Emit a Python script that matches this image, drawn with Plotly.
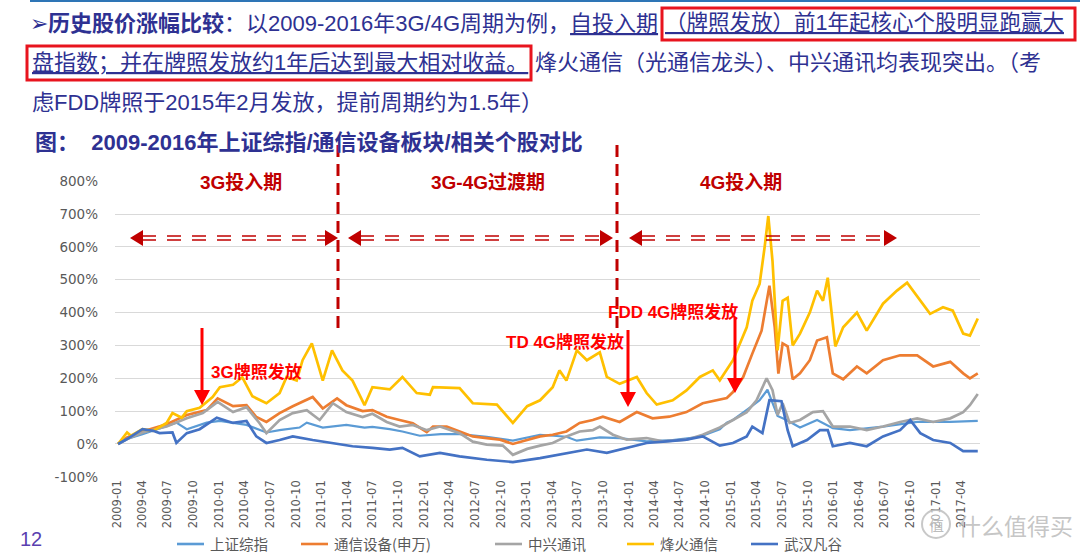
import plotly.graph_objects as go

# ------------------------------------------------------------------ data
series_names = ["上证综指", "通信设备(申万)", "中兴通讯", "烽火通信", "武汉凡谷"]
series_colors = ["#5B9BD5", "#ED7D31", "#A5A5A5", "#FFC000", "#4472C4"]

sz_dates = ["2009-01-05", "2009-02-06", "2009-04-02", "2009-06-27", "2009-08-01", "2009-09-07",
            "2009-11-17", "2010-01-03", "2010-04-08", "2010-06-18", "2010-08-04", "2010-10-14",
            "2010-11-09", "2011-01-05", "2011-03-30", "2011-06-03", "2011-07-01", "2011-09-01",
            "2011-10-16", "2011-12-17", "2012-03-01", "2012-05-07", "2012-08-12", "2012-11-13",
            "2013-02-18", "2013-05-23", "2013-06-29", "2013-09-19", "2013-11-29", "2014-03-05",
            "2014-06-06", "2014-09-11", "2014-11-21", "2014-12-16", "2015-01-07", "2015-03-07",
            "2015-04-12", "2015-05-10", "2015-06-15", "2015-07-17", "2015-09-03", "2015-11-03",
            "2015-12-29", "2016-02-28", "2016-06-25", "2016-10-25", "2017-02-20", "2017-05-29"]
sz_vals = [0, 15, 30, 55, 65, 45,
           65, 70, 58, 35, 42, 50,
           65, 50, 58, 50, 52, 45,
           38, 25, 30, 30, 22, 10,
           28, 22, 10, 20, 18, 8,
           12, 22, 45, 65, 73, 110,
           133, 165, 85, 73, 50, 73,
           48, 42, 53, 67, 67, 70]

tx_dates = ["2009-01-05", "2009-02-06", "2009-04-02", "2009-06-27", "2009-09-07", "2009-11-17",
            "2009-12-26", "2010-02-19", "2010-04-08", "2010-05-13", "2010-06-18", "2010-08-04",
            "2010-09-20", "2010-11-09", "2010-11-30", "2011-01-05", "2011-02-25", "2011-03-30",
            "2011-05-27", "2011-07-01", "2011-08-21", "2011-10-06", "2011-11-22", "2012-01-11",
            "2012-02-02", "2012-03-22", "2012-05-07", "2012-06-23", "2012-08-12", "2012-09-28",
            "2012-11-13", "2013-01-03", "2013-02-18", "2013-04-04", "2013-05-23", "2013-07-09",
            "2013-08-25", "2013-09-30", "2013-11-29", "2014-01-29", "2014-03-26", "2014-05-25",
            "2014-07-25", "2014-09-21", "2014-11-21", "2014-12-16", "2015-01-07", "2015-02-12",
            "2015-03-17", "2015-04-19", "2015-05-17", "2015-06-05", "2015-06-18", "2015-07-03",
            "2015-07-21", "2015-08-08", "2015-09-03", "2015-10-08", "2015-11-03", "2015-12-08",
            "2015-12-29", "2016-02-04", "2016-03-24", "2016-04-28", "2016-06-25", "2016-08-25",
            "2016-10-25", "2016-12-21", "2017-02-20", "2017-04-07", "2017-05-01", "2017-05-29"]
tx_vals = [0, 20, 38, 60, 88, 103,
           139, 115, 118, 82, 67, 94,
           115, 133, 143, 108, 139, 118,
           100, 103, 83, 73, 63, 36,
           53, 53, 38, 23, 18, 13,
           0, 13, 23, 28, 38, 64,
           73, 83, 67, 97, 78, 83,
           97, 124, 136, 140, 158, 203,
           275, 345, 482, 355, 214, 306,
           297, 197, 215, 255, 315, 325,
           215, 197, 236, 215, 255, 270,
           270, 236, 250, 215, 200, 215]

zx_dates = ["2009-01-05", "2009-02-06", "2009-04-02", "2009-06-27", "2009-09-07", "2009-11-03",
            "2009-12-26", "2010-02-19", "2010-04-08", "2010-05-24", "2010-06-18", "2010-08-04",
            "2010-09-20", "2010-11-09", "2010-12-25", "2011-02-10", "2011-03-30", "2011-05-27",
            "2011-07-01", "2011-08-21", "2011-10-06", "2011-11-22", "2012-01-11", "2012-02-27",
            "2012-05-07", "2012-06-23", "2012-08-12", "2012-10-08", "2012-11-13", "2013-01-03",
            "2013-02-18", "2013-04-04", "2013-05-23", "2013-07-09", "2013-08-25", "2013-09-19",
            "2013-11-05", "2013-12-24", "2014-03-05", "2014-05-01", "2014-07-25", "2014-09-21",
            "2014-11-21", "2015-01-07", "2015-02-25", "2015-04-01", "2015-05-07", "2015-05-28",
            "2015-06-15", "2015-07-03", "2015-07-28", "2015-09-03", "2015-10-19", "2015-11-24",
            "2015-12-29", "2016-02-28", "2016-04-28", "2016-06-25", "2016-08-25", "2016-10-25",
            "2016-12-21", "2017-02-20", "2017-04-07", "2017-05-01", "2017-05-29"]
zx_vals = [0, 15, 35, 53, 78, 94,
           128, 97, 112, 64, 33, 73,
           94, 103, 73, 124, 97, 82,
           92, 67, 53, 58, 42, 53,
           33, 7, -2, -5, -33, -15,
           -5, 3, 23, 38, 42, 53,
           28, 13, 18, 8, 13, 28,
           50, 73, 97, 133, 200, 164,
           88, 124, 64, 73, 97, 100,
           53, 53, 42, 53, 67, 78,
           67, 78, 97, 118, 152]

fh_dates = ["2009-01-05", "2009-02-06", "2009-02-20", "2009-04-02", "2009-05-10", "2009-06-27",
            "2009-07-18", "2009-08-20", "2009-09-07", "2009-10-23", "2009-12-08", "2010-01-03",
            "2010-02-19", "2010-03-24", "2010-04-29", "2010-06-18", "2010-08-04", "2010-08-29",
            "2010-10-04", "2010-10-25", "2010-11-27", "2011-01-05", "2011-02-07", "2011-03-16",
            "2011-04-21", "2011-06-03", "2011-07-01", "2011-09-01", "2011-10-16", "2011-12-06",
            "2012-01-22", "2012-02-02", "2012-05-07", "2012-06-23", "2012-09-17", "2012-11-13",
            "2013-01-03", "2013-02-18", "2013-04-04", "2013-04-28", "2013-05-23", "2013-06-29",
            "2013-08-04", "2013-09-19", "2013-10-14", "2013-11-29", "2014-01-29", "2014-03-05",
            "2014-04-10", "2014-06-06", "2014-07-25", "2014-09-11", "2014-10-27", "2014-11-21",
            "2015-01-07", "2015-02-25", "2015-03-17", "2015-04-12", "2015-04-30", "2015-05-13",
            "2015-05-28", "2015-06-15", "2015-07-03", "2015-07-21", "2015-08-08", "2015-09-03",
            "2015-10-08", "2015-11-03", "2015-11-24", "2015-12-11", "2016-01-07", "2016-02-04",
            "2016-03-24", "2016-04-28", "2016-06-25", "2016-08-14", "2016-09-19", "2016-11-05",
            "2016-12-10", "2017-01-25", "2017-03-01", "2017-04-07", "2017-05-01", "2017-05-29"]
fh_vals = [0, 35, 25, 45, 40, 64,
           94, 80, 100, 110, 143, 173,
           180, 203, 145, 124, 155, 204,
           193, 255, 306, 193, 285, 224,
           193, 118, 173, 166, 204, 155,
           150, 173, 170, 124, 120, 64,
           115, 133, 173, 224, 193, 285,
           255, 279, 204, 183, 204, 155,
           120, 133, 163, 204, 224, 194,
           255, 355, 436, 487, 600, 694,
           557, 285, 436, 445, 300, 336,
           400, 467, 436, 506, 297, 355,
           400, 345, 427, 467, 491, 436,
           396, 416, 406, 336, 330, 382]

wh_dates = ["2009-01-05", "2009-02-06", "2009-04-02", "2009-05-10", "2009-06-02", "2009-07-18",
            "2009-08-01", "2009-09-07", "2009-10-23", "2009-12-23", "2010-02-19", "2010-04-08",
            "2010-05-13", "2010-06-18", "2010-08-04", "2010-09-20", "2010-11-30", "2011-02-10",
            "2011-04-21", "2011-07-01", "2011-09-01", "2011-10-16", "2011-12-17", "2012-02-27",
            "2012-05-07", "2012-08-12", "2012-11-13", "2013-02-18", "2013-04-28", "2013-08-04",
            "2013-10-14", "2013-12-24", "2014-03-05", "2014-05-15", "2014-07-25", "2014-09-21",
            "2014-11-21", "2015-01-07", "2015-02-25", "2015-03-17", "2015-04-22", "2015-05-17",
            "2015-06-29", "2015-07-21", "2015-08-08", "2015-09-28", "2015-11-13", "2015-12-11",
            "2015-12-29", "2016-02-28", "2016-04-28", "2016-06-25", "2016-08-25", "2016-09-30",
            "2016-11-05", "2016-12-21", "2017-02-20", "2017-04-07", "2017-05-29"]
wh_vals = [0, 15, 45, 40, 33, 35,
           3, 33, 45, 80, 64, 70,
           23, 3, 12, 23, 12, 3,
           -7, -12, -17, -12, -38, -27,
           -38, -48, -55, -43, -33, -17,
           -27, -12, 3, 8, 13, 23,
           -5, 3, 23, 53, 33, 133,
           130, 42, -7, 12, 42, 42,
           -7, 3, -7, 23, 42, 73,
           33, 12, 3, -22, -22]

y_ticks = [-100, 0, 100, 200, 300, 400, 500, 600, 700, 800]
y_tick_text = ["-100%", "0%", "100%", "200%", "300%", "400%", "500%", "600%", "700%", "800%"]
period_labels = ["3G投入期", "3G-4G过渡期", "4G投入期"]
license_labels = ["3G牌照发放", "TD 4G牌照发放", "FDD 4G牌照发放"]

all_dates = [sz_dates, tx_dates, zx_dates, fh_dates, wh_dates]
all_vals = [sz_vals, tx_vals, zx_vals, fh_vals, wh_vals]

# ------------------------------------------------------------------ geometry helpers
W, H = 1080, 555
ML, MR, MT, MB = 115, 100, 181, 78
PW, PH = W - ML - MR, H - MT - MB


def X(p):
    return (p - ML) / PW


def Y(p):
    return (H - MB - p) / PH


fig = go.Figure()
for name, col, d, v in zip(series_names, series_colors, all_dates, all_vals):
    fig.add_trace(go.Scatter(x=d, y=v, mode="lines", name=name,
                             line=dict(color=col, width=2.7 if name != "上证综指" else 2.2),
                             showlegend=False))

shapes = []
annos = []
CJK = "Liberation Sans, Noto Sans CJK SC, sans-serif"
NAVY = "#2E3192"
DRED = "#C00000"
RED = "#FF0000"


def text(x, y, s, size, color, xanchor="left", family=CJK):
    annos.append(dict(x=X(x), y=Y(y), xref="paper", yref="paper", text=s, showarrow=False,
                      xanchor=xanchor, yanchor="middle", align="left",
                      font=dict(size=size, color=color, family=family)))


# top blue rule
shapes.append(dict(type="line", xref="paper", yref="paper", x0=X(30), x1=X(1080), y0=Y(1), y1=Y(1),
                   line=dict(color="#2E75B6", width=2)))

# header text
text(28, 23, "➢<b>历史股价涨幅比较</b>：以2009-2016年3G/4G周期为例，<u>自投入期</u>", 22, NAVY)
text(663, 23, "<u>（牌照发放）前1年起核心个股明显跑赢大</u>", 21.5, NAVY)
text(30, 63, "<u>盘指数；并在牌照发放约1年后达到最大相对收益。</u>", 22, NAVY)
text(533, 63, "烽火通信（光通信龙头）、中兴通讯均表现突出。（考", 22, NAVY)
text(30, 103, "虑FDD牌照于2015年2月发放，提前周期约为1.5年）", 22, NAVY)

shapes.append(dict(type="rect", xref="paper", yref="paper", x0=X(662), x1=X(1075), y0=Y(8), y1=Y(40),
                   line=dict(color="#E8141E", width=3)))
shapes.append(dict(type="rect", xref="paper", yref="paper", x0=X(27), x1=X(531), y0=Y(46), y1=Y(80),
                   line=dict(color="#E8141E", width=3)))

# chart subtitle
text(33, 142, "<b>图：  2009-2016年上证综指/通信设备板块/相关个股对比</b>", 22, NAVY)

# period labels
for lab, cx in zip(period_labels, [241, 488, 741]):
    text(cx, 182, "<b>" + lab + "</b>", 19, DRED, xanchor="center")

# vertical dashed separators
for vx in [338, 617]:
    shapes.append(dict(type="line", xref="paper", yref="paper", x0=X(vx), x1=X(vx), y0=Y(145), y1=Y(335),
                       line=dict(color=DRED, width=3, dash="12px,7px")))


def dbl_arrow(x0, x1, yc):
    for dy in (-2, 2):
        shapes.append(dict(type="line", xref="paper", yref="paper", x0=X(x0 + 12), x1=X(x1 - 12),
                           y0=Y(yc + dy), y1=Y(yc + dy),
                           line=dict(color=DRED, width=1.5, dash="14px,11px")))
    shapes.append(dict(type="path", xref="paper", yref="paper", line=dict(width=0), fillcolor=DRED,
                       path=f"M{X(x0)},{Y(yc)} L{X(x0 + 13)},{Y(yc - 8)} L{X(x0 + 13)},{Y(yc + 8)} Z"))
    shapes.append(dict(type="path", xref="paper", yref="paper", line=dict(width=0), fillcolor=DRED,
                       path=f"M{X(x1)},{Y(yc)} L{X(x1 - 13)},{Y(yc - 8)} L{X(x1 - 13)},{Y(yc + 8)} Z"))


dbl_arrow(130, 338, 238)
dbl_arrow(348, 613, 238)
dbl_arrow(629, 897, 238)


def down_arrow(x, y0, y1):
    shapes.append(dict(type="line", xref="paper", yref="paper", x0=X(x), x1=X(x), y0=Y(y0), y1=Y(y1 - 12),
                       line=dict(color=RED, width=3)))
    shapes.append(dict(type="path", xref="paper", yref="paper", line=dict(width=0), fillcolor=RED,
                       path=f"M{X(x - 8)},{Y(y1 - 15)} L{X(x + 8)},{Y(y1 - 15)} L{X(x)},{Y(y1)} Z"))


down_arrow(202, 328, 405)
down_arrow(628, 330, 407)
down_arrow(735, 317, 393)
text(209, 372, "<b>" + license_labels[0] + "</b>", 17, RED)
text(504, 342, "<b>" + license_labels[1] + "</b>", 17, RED)
text(606, 312, "<b>" + license_labels[2] + "</b>", 17, RED)

# manual legend
leg_x = [177, 301, 495, 627, 751]
for name, col, lx in zip(series_names, series_colors, leg_x):
    shapes.append(dict(type="line", xref="paper", yref="paper", x0=X(lx), x1=X(lx + 27), y0=Y(544), y1=Y(544),
                       line=dict(color=col, width=2.6)))
    text(lx + 31, 543, name, 14.5, "#595959", family="Noto Sans CJK SC, sans-serif")

# page number & watermark
text(18, 539, "12", 20, "#5A3FB0", family="Liberation Sans, sans-serif")
shapes.append(dict(type="circle", xref="paper", yref="paper", x0=X(922), x1=X(950), y0=Y(510), y1=Y(538),
                   line=dict(color="rgba(190,190,190,0.85)", width=2), fillcolor="rgba(255,255,255,0.5)"))
text(936, 524, "值", 15, "rgba(185,185,185,0.95)", xanchor="center", family="Noto Sans CJK SC")
text(956, 525, "什么值得买", 23, "rgba(190,190,190,0.9)", family="Noto Sans CJK SC")

fig.update_layout(
    width=W, height=H,
    margin=dict(l=ML, r=MR, t=MT, b=MB),
    paper_bgcolor="white", plot_bgcolor="white",
    shapes=shapes, annotations=annos,
    xaxis=dict(type="date", range=["2008-12-25", "2017-06-06"], tick0="2009-01-01", dtick="M3",
               tickformat="%Y-%m", tickangle=-90, showgrid=False, zeroline=False, showline=False,
               ticks="", tickfont=dict(family="DejaVu Sans, sans-serif", size=11.5, color="#595959")),
    yaxis=dict(range=[-100.6, 800.6], tickvals=y_ticks, ticktext=y_tick_text, showgrid=True,
               gridcolor="#D9D9D9", gridwidth=1.2, zeroline=False, showline=False, ticks="",
               ticklabelstandoff=16,
               tickfont=dict(family="DejaVu Sans, sans-serif", size=13.5, color="#595959")),
)

fig.write_html("out.html", config={"displayModeBar": False},
               post_script="document.body.style.margin='0';document.body.style.overflow='hidden';")
